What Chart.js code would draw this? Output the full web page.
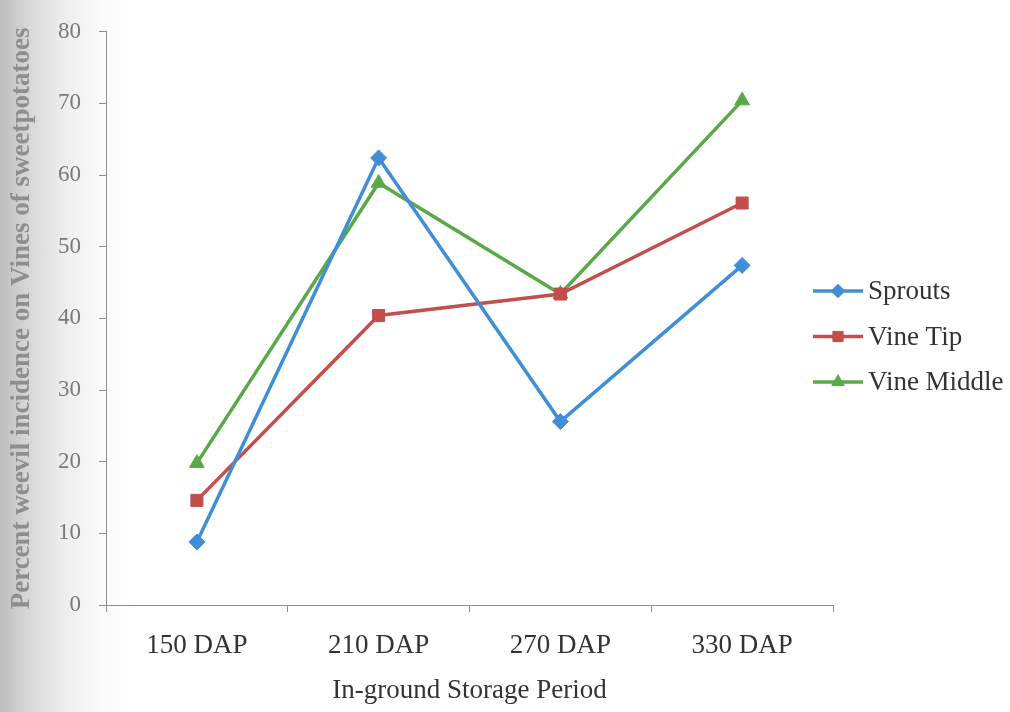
<!DOCTYPE html>
<html>
<head>
<meta charset="utf-8">
<script src="https://cdn.jsdelivr.net/npm/chart.js@4.4.1/dist/chart.umd.min.js"></script>
<style>
  html, body { margin: 0; padding: 0; }
  body {
    width: 1010px; height: 712px; overflow: hidden;
    background: linear-gradient(to right, #bdbdbd 0px, #d4d4d4 25px, #ececec 60px, #fafafa 100px, #ffffff 140px);
  }
  canvas { display: block; }
</style>
</head>
<body>
<canvas id="chart" width="1010" height="712"></canvas>
<script>
// Storage periods (days after planting)
const periods = ['150 DAP', '210 DAP', '270 DAP', '330 DAP'];

// Percent weevil incidence by plant part
const sprouts    = [8.8, 62.4, 25.6, 47.4];
const vineTip    = [14.6, 40.4, 43.4, 56.1];
const vineMiddle = [19.8, 58.9, 43.4, 70.4];

// Y axis range
const yMin = 0, yMax = 80, yStep = 10;

const serif = '"Liberation Serif", "Times New Roman", serif';

const series = [
  { label: 'Sprouts',     data: sprouts,    color: '#3f8ed6', style: 'rectRot',  radius: 8 },
  { label: 'Vine Tip',    data: vineTip,    color: '#c24f4b', style: 'rect',     radius: 8.5 },
  { label: 'Vine Middle', data: vineMiddle, color: '#5aa948', style: 'triangle', radius: 8.5 }
];

// Legend on the right: short line with a marker in the middle, then the label
const sideLegend = {
  id: 'sideLegend',
  afterDraw(chart) {
    const ctx = chart.ctx;
    const area = chart.chartArea;
    const x0 = area.right - 20, x1 = area.right + 30, xm = (x0 + x1) / 2;
    const yStart = 291, gap = 45.5;
    ctx.save();
    chart.data.datasets.forEach((ds, i) => {
      const y = yStart + i * gap;
      ctx.strokeStyle = ds.borderColor;
      ctx.lineWidth = 3.5;
      ctx.beginPath();
      ctx.moveTo(x0, y);
      ctx.lineTo(x1, y);
      ctx.stroke();
      ctx.fillStyle = ds.pointBackgroundColor;
      ctx.strokeStyle = ds.pointBorderColor;
      ctx.lineWidth = 1;
      Chart.helpers.drawPoint(ctx, { pointStyle: ds.pointStyle, radius: ds.pointRadius * 0.85, rotation: 0, borderWidth: 1 }, xm, y);
      ctx.fillStyle = '#333333';
      ctx.font = '27px ' + serif;
      ctx.textAlign = 'left';
      ctx.textBaseline = 'middle';
      ctx.fillText(ds.label, x1 + 5, y + 1);
    });
    ctx.restore();
  }
};

new Chart(document.getElementById('chart'), {
  type: 'line',
  data: {
    labels: periods,
    datasets: series.map(s => ({
      label: s.label,
      data: s.data,
      borderColor: s.color,
      backgroundColor: s.color,
      pointBackgroundColor: s.color,
      pointBorderColor: s.color,
      pointStyle: s.style,
      pointRadius: s.radius,
      pointBorderWidth: 1,
      borderWidth: 3.5,
      tension: 0,
      fill: false
    }))
  },
  options: {
    responsive: false,
    animation: false,
    events: [],
    layout: { padding: { top: 26, right: 177, left: 0, bottom: 0 } },
    plugins: {
      legend: { display: false },
      tooltip: { enabled: false }
    },
    scales: {
      x: {
        type: 'category',
        offset: true,
        grid: {
          offset: true,
          drawOnChartArea: false,
          drawTicks: true,
          tickLength: 7,
          color: '#8f8f8f',
          lineWidth: 1
        },
        border: { display: true, color: '#8f8f8f', width: 1 },
        ticks: {
          color: '#333333',
          font: { family: serif, size: 27 },
          padding: 18,
          maxRotation: 0
        },
        title: {
          display: true,
          text: 'In-ground Storage Period',
          color: '#333333',
          font: { family: serif, size: 27 },
          padding: { top: 0, bottom: 5 }
        },
        afterFit(scale) { scale.height = 107; }
      },
      y: {
        min: yMin,
        max: yMax,
        grid: {
          drawOnChartArea: false,
          drawTicks: true,
          tickLength: 7,
          color: '#8f8f8f',
          lineWidth: 1
        },
        border: { display: true, color: '#8f8f8f', width: 1 },
        ticks: {
          stepSize: yStep,
          color: '#7a7a7a',
          font: { family: serif, size: 23 },
          padding: 18
        },
        title: {
          display: true,
          text: 'Percent weevil incidence on Vines of sweetpotatoes',
          color: '#8e8e8e',
          font: { family: serif, size: 27, weight: 'bold' },
          padding: { top: 6, bottom: 0 }
        },
        afterFit(scale) { scale.width = 106; }
      }
    }
  },
  plugins: [sideLegend]
});
</script>
</body>
</html>
